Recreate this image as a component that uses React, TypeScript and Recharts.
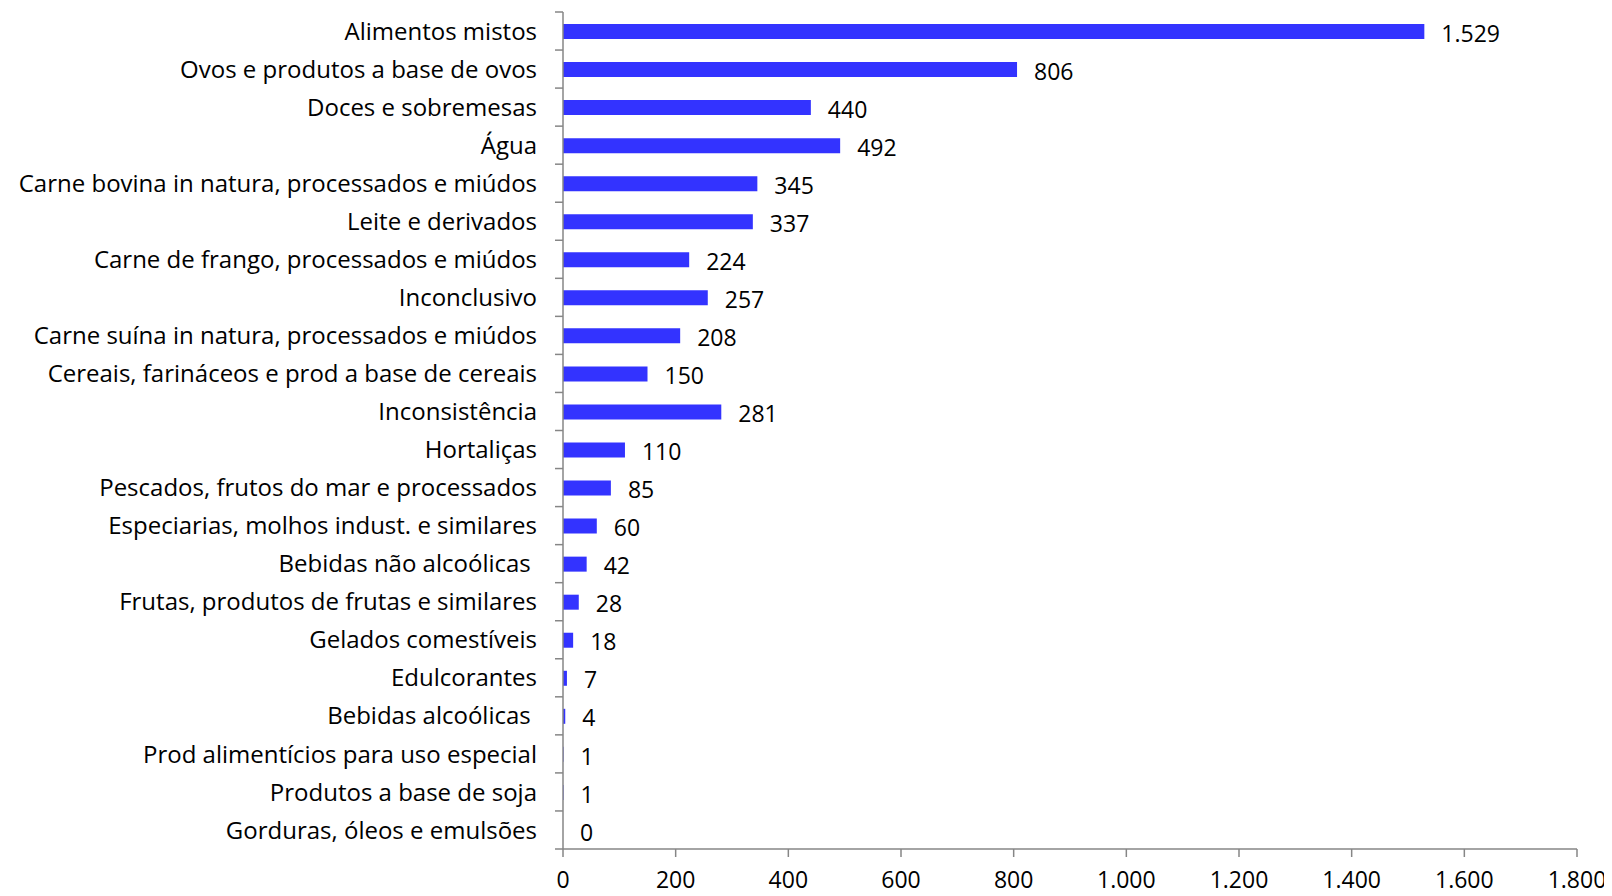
import React from 'react';
import { BarChart, Bar, XAxis, YAxis, LabelList } from 'recharts';

const categories = [
  'Alimentos mistos',
  'Ovos e produtos a base de ovos',
  'Doces e sobremesas',
  'Água',
  'Carne bovina in natura, processados e miúdos',
  'Leite e derivados',
  'Carne de frango, processados e miúdos',
  'Inconclusivo',
  'Carne suína in natura, processados e miúdos',
  'Cereais, farináceos e prod a base de cereais',
  'Inconsistência',
  'Hortaliças',
  'Pescados, frutos do mar e processados',
  'Especiarias, molhos indust. e similares',
  'Bebidas não alcoólicas\u00a0',
  'Frutas, produtos de frutas e similares',
  'Gelados comestíveis',
  'Edulcorantes',
  'Bebidas alcoólicas\u00a0',
  'Prod alimentícios para uso especial',
  'Produtos a base de soja',
  'Gorduras, óleos e emulsões',
];

const counts = [1529, 806, 440, 492, 345, 337, 224, 257, 208, 150, 281, 110, 85, 60, 42, 28, 18, 7, 4, 1, 1, 0];

const xTicks = [0, 200, 400, 600, 800, 1000, 1200, 1400, 1600, 1800];

const data = categories.map((name, i) => ({ name, value: counts[i] }));

const FONT = '"Open Sans", sans-serif';
const CAT_SIZE = 24;
const NUM_SIZE = 23;
const AXIS = '#868686';

const WIDTH = 1600;
const HEIGHT = 888;
const MARGIN = { top: 4, right: 31, bottom: 0, left: 0 };
const X_AXIS_HEIGHT = 47;
const BAND = (HEIGHT - MARGIN.top - MARGIN.bottom - X_AXIS_HEIGHT) / categories.length;

const fmt = (v: number) => String(v).replace(/\B(?=(\d{3})+(?!\d))/g, '.');

const CategoryTick = (props: any) => {
  const { x, y, payload, index } = props;
  const last = index === categories.length - 1;
  return (
    <g>
      <line x1={x + 18} x2={x + 26} y1={y - BAND / 2} y2={y - BAND / 2} stroke={AXIS} strokeWidth={1.5} />
      {last && (
        <line x1={x + 18} x2={x + 26} y1={y + BAND / 2} y2={y + BAND / 2} stroke={AXIS} strokeWidth={1.5} />
      )}
      <text
        x={x}
        y={y}
        dy={CAT_SIZE * 0.36}
        textAnchor="end"
        fill="#000"
        fontFamily={FONT}
        fontSize={CAT_SIZE}
        style={{ whiteSpace: 'pre' }}
      >
        {payload.value}
      </text>
    </g>
  );
};

export default function App() {
  return (
    <BarChart width={WIDTH} height={HEIGHT} data={data} layout="vertical" margin={MARGIN}>
      <XAxis
        type="number"
        domain={[0, 1800]}
        ticks={xTicks}
        tickFormatter={fmt}
        height={X_AXIS_HEIGHT}
        axisLine={{ stroke: AXIS, strokeWidth: 1.5 }}
        tickLine={{ stroke: AXIS, strokeWidth: 1.5 }}
        tickSize={8}
        tickMargin={15}
        tick={{ fill: '#000', fontFamily: FONT, fontSize: NUM_SIZE }}
        interval={0}
      />
      <YAxis
        type="category"
        dataKey="name"
        width={555}
        axisLine={{ stroke: AXIS, strokeWidth: 1.5 }}
        tickLine={false}
        tickSize={8}
        tickMargin={18}
        tick={<CategoryTick />}
        interval={0}
      />
      <Bar dataKey="value" fill="#3333FF" barSize={15} minPointSize={0.001} isAnimationActive={false}>
        <LabelList
          dataKey="value"
          position="right"
          offset={17}
          formatter={(v: any) => fmt(Number(v))}
          fill="#000"
          fontFamily={FONT}
          fontSize={NUM_SIZE}
          dy={2}
        />
      </Bar>
    </BarChart>
  );
}
